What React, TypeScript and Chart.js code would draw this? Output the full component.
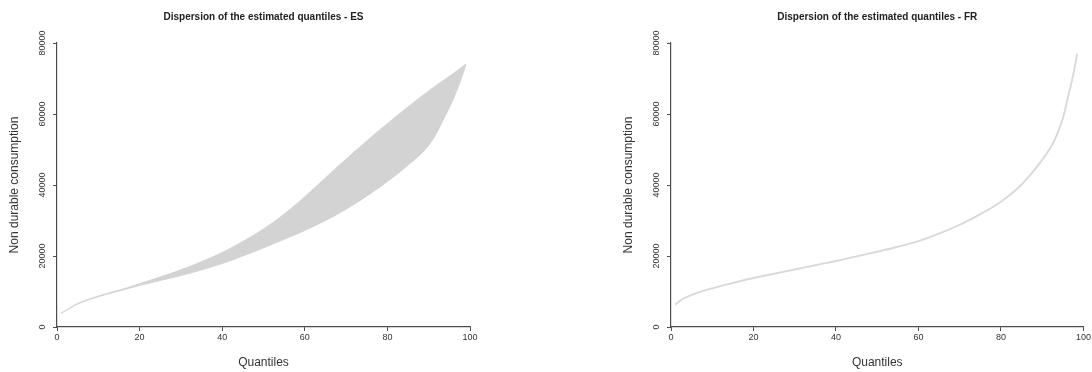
import React, { useEffect, useRef } from 'react';
import { Chart, registerables } from 'chart.js';

Chart.register(...registerables);

const FONT = '"Liberation Sans", Arial, Helvetica, sans-serif';

// Spain (ES): band of estimated quantiles
const quantilesES = [1, 3, 5, 8, 12, 16, 20, 25, 30, 35, 40, 45, 50, 55, 60, 65, 70, 75, 80, 85, 90, 94, 97, 99];
const esUpper = [3950, 5300, 6600, 7950, 9400, 10700, 12200, 14100, 16100, 18400, 21000, 24100, 27600, 31800, 36700, 42000, 47300, 52400, 57300, 62000, 66500, 69800, 72300, 74100];
const esLower = [3850, 5200, 6450, 7800, 9200, 10450, 11700, 13100, 14500, 16100, 17900, 20000, 22300, 24700, 27200, 30000, 33200, 36900, 41000, 45600, 51200, 59500, 67200, 73900];

// France (FR): very narrow band, drawn as one line
const quantilesFR = [1, 3, 6, 10, 15, 20, 25, 30, 35, 40, 45, 50, 55, 60, 65, 70, 75, 80, 84, 87, 89.5, 92, 93.5, 95, 96.5, 97.5, 98.5];
const frValues = [6300, 8000, 9500, 10900, 12400, 13800, 15000, 16200, 17400, 18600, 19900, 21200, 22600, 24200, 26300, 28800, 31800, 35300, 39000, 42700, 46300, 50500, 54000, 58800, 66000, 71000, 77000];

const xTicks = [0, 20, 40, 60, 80, 100];
const yTicks = [0, 20000, 40000, 60000, 80000];

const titleES = 'Dispersion of the estimated quantiles - ES';
const titleFR = 'Dispersion of the estimated quantiles - FR';
const xTitle = 'Quantiles';
const yTitle = 'Non durable consumption';

const BAND = '#d3d3d3';
const AXIS = '#4d4d4d';
const TEXT = '#333333';

function decor(title: string) {
  return {
    id: 'decor',
    afterDraw(chart: any) {
      const { ctx, chartArea, scales } = chart;
      const ys = scales.y;
      const cx = (chartArea.left + chartArea.right) / 2;
      const cy = (chartArea.top + chartArea.bottom) / 2;
      ctx.save();
      ctx.textAlign = 'center';
      ctx.textBaseline = 'middle';
      ctx.fillStyle = '#222222';
      ctx.font = `bold 10px ${FONT}`;
      ctx.fillText(title, cx, 17);
      ctx.fillStyle = TEXT;
      ctx.font = `12px ${FONT}`;
      ctx.fillText(xTitle, cx, 363);
      ctx.save();
      ctx.translate(chartArea.left - 42, cy);
      ctx.rotate(-Math.PI / 2);
      ctx.fillText(yTitle, 0, 0);
      ctx.restore();
      ctx.font = `9px ${FONT}`;
      for (const v of yTicks) {
        const y = ys.getPixelForValue(v);
        ctx.save();
        ctx.translate(chartArea.left - 14, y);
        ctx.rotate(-Math.PI / 2);
        ctx.fillText(String(v), 0, 0);
        ctx.restore();
      }
      ctx.restore();
    },
  };
}

function makeOptions(yWidth: number, rightPad: number) {
  return {
    responsive: false,
    animation: false as const,
    devicePixelRatio: 1,
    layout: { padding: { top: 43, right: rightPad, left: 0, bottom: 0 } },
    plugins: {
      legend: { display: false },
      title: { display: false },
      tooltip: { enabled: false },
    },
    elements: { point: { radius: 0 } },
    scales: {
      x: {
        type: 'linear' as const,
        min: 0,
        max: 100,
        afterFit(s: any) { s.height = 45; },
        afterBuildTicks(s: any) { s.ticks = xTicks.map((v) => ({ value: v })); },
        ticks: { font: { size: 9, family: FONT }, color: TEXT, padding: 1, maxRotation: 0, autoSkip: false },
        grid: { drawOnChartArea: false, tickLength: 4, color: AXIS, lineWidth: 1 },
        border: { color: AXIS, width: 1.2 },
      },
      y: {
        type: 'linear' as const,
        min: 0,
        max: 80000,
        afterFit(s: any) { s.width = yWidth; },
        afterBuildTicks(s: any) { s.ticks = yTicks.map((v) => ({ value: v })); },
        ticks: { display: false },
        grid: { drawOnChartArea: false, tickLength: 4, color: AXIS, lineWidth: 1 },
        border: { color: AXIS, width: 1.2 },
      },
    },
  };
}

function Panel(props: { kind: 'ES' | 'FR'; left: number; width: number; yWidth: number; rightPad: number }) {
  const ref = useRef<HTMLCanvasElement | null>(null);
  useEffect(() => {
    if (!ref.current) return;
    let datasets: any[];
    if (props.kind === 'ES') {
      datasets = [
        {
          data: quantilesES.map((q, i) => ({ x: q, y: esUpper[i] })),
          borderColor: BAND,
          backgroundColor: BAND,
          borderWidth: 1,
          fill: '+1',
          pointRadius: 0,
          tension: 0.4,
        },
        {
          data: quantilesES.map((q, i) => ({ x: q, y: esLower[i] })),
          borderColor: BAND,
          backgroundColor: BAND,
          borderWidth: 1,
          fill: false,
          pointRadius: 0,
          tension: 0.4,
        },
      ];
    } else {
      datasets = [
        {
          data: quantilesFR.map((q, i) => ({ x: q, y: frValues[i] })),
          borderColor: '#d9d9d9',
          borderWidth: 1.9,
          fill: false,
          pointRadius: 0,
          tension: 0.4,
        },
      ];
    }
    const chart = new Chart(ref.current, {
      type: 'line',
      data: { datasets },
      options: makeOptions(props.yWidth, props.rightPad) as any,
      plugins: [decor(props.kind === 'ES' ? titleES : titleFR)],
    });
    return () => chart.destroy();
  }, []);
  return (
    <canvas
      ref={ref}
      width={props.width}
      height={372}
      style={{ position: 'absolute', top: 0, left: props.left, width: props.width, height: 372 }}
    />
  );
}

export default function App() {
  return (
    <div style={{ position: 'fixed', top: 0, left: 0, width: 1092, height: 372, background: '#ffffff', overflow: 'hidden' }}>
      <Panel kind="ES" left={0} width={560} yWidth={57} rightPad={90} />
      <Panel kind="FR" left={560} width={532} yWidth={111} rightPad={8} />
    </div>
  );
}
